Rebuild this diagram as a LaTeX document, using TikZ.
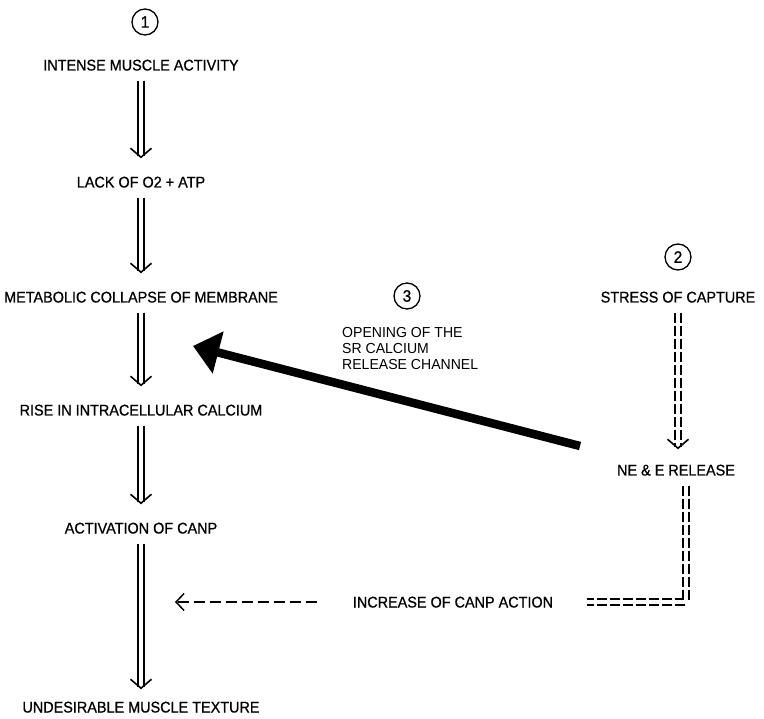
\documentclass[tikz,border=0pt]{standalone}
\usepackage{fontspec}
\setmainfont{Liberation Sans}[FakeStretch=0.93, FakeBold=0.8]
\newfontfamily\notefont{Liberation Sans}[FakeStretch=0.97]
\usetikzlibrary{arrows.meta, positioning}

\begin{document}
\begin{tikzpicture}[x=1pt, y=-1pt, on grid, font=\fontsize{15.5}{16}\selectfont,
      stage/.style={inner sep=4pt, text height=11pt, text depth=0pt},
      num/.style={circle, draw, line width=1.3pt, minimum size=26pt, inner sep=0pt, font=\fontsize{16.5}{17}\selectfont},
      flow/.style={double, double distance=4.5pt, line width=1.4pt, shorten <=6pt, shorten >=14pt,
        -{Straight Barb[length=9pt, width=21pt, line width=1.6pt]}},
      % the hormone path is drawn with broken lines
      flowdash/.style={flow, dash pattern=on 10pt off 3pt},
      feed/.style={dash pattern=on 11pt off 5pt, line width=1.2pt,
        -{Straight Barb[length=8pt, width=17pt, line width=1.5pt]}},
      channel/.style={line width=8.5pt, -{Triangle[length=26pt, width=42pt]}}]
  \useasboundingbox (0,0) rectangle (764,719);

  % main column
  \node[num]   (one) at (145,22) {1};
  \node[stage] (intense) at (141,65) {INTENSE MUSCLE ACTIVITY};
  \node[stage] (lack)   [below=117pt of intense] {LACK OF O2 + ATP};
  \node[stage] (metab)  [below=115pt of lack] {METABOLIC COLLAPSE OF MEMBRANE};
  \node[stage] (rise)   [below=113pt of metab] {RISE IN INTRACELLULAR CALCIUM};
  \node[stage] (act)    [below=118pt of rise] {ACTIVATION OF CANP};
  \node[stage] (undes)  [below=179pt of act] {UNDESIRABLE MUSCLE TEXTURE};

  % capture stress column
  \node[num]   (two) at (678,257) {2};
  \node[stage] (stress) [below=40pt of two] {STRESS OF CAPTURE};
  \node[stage] (ne)     at (676,470) {NE \& E RELEASE};
  \node[stage] (inc)    at (453,602) {INCREASE OF CANP ACTION};

  \node[num]   (three) at (407,296) {3};
  \node[align=left, anchor=west, inner sep=0pt, font=\notefont\fontsize{14.5}{16}\selectfont] (chan) at (342,349)
    {OPENING OF THE\\SR CALCIUM\\RELEASE CHANNEL};

  \coordinate (bend) at (686,602);
  \coordinate (canpgoal) at (175,602);
  \coordinate (chanfrom) at (580,446);
  \coordinate (chanto) at (193,346);

  \draw[flow] (intense) -- (lack);
  \draw[flow] (lack) -- (metab);
  \draw[flow] (metab) -- (rise);
  \draw[flow] (rise) -- (act);
  \draw[flow, shorten >=8pt] (act) -- (undes);

  \draw[flowdash, shorten >=11pt] (stress.south) -- (stress.south |- ne.north);
  \draw[flowdash, -, shorten >=0pt] (ne.south -| bend) -- (bend) -- ([xshift=30pt]inc.east);
  \draw[feed, shorten <=32pt, shorten >=0pt] (inc.west) -- (canpgoal);

  \draw[channel] (chanfrom) -- (chanto);
\end{tikzpicture}
\end{document}
